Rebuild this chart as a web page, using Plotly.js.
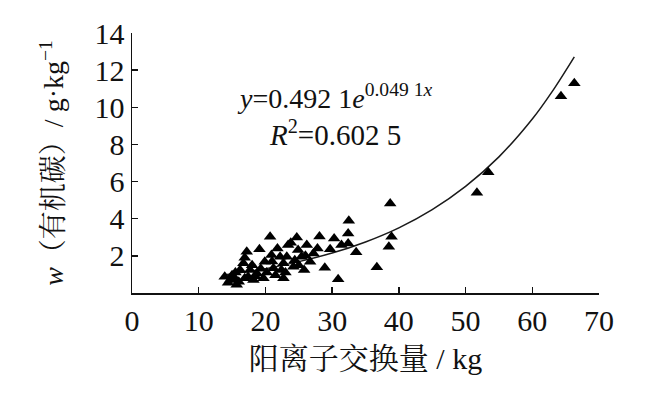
<!DOCTYPE html>
<html>
<head>
<meta charset="utf-8">
<script src="https://cdn.plot.ly/plotly-3.0.1.min.js"></script>
<style>
html,body{margin:0;padding:0;background:#fff;}
#chart{width:648px;height:395px;}
#chart text{font-family:'Liberation Serif','Noto Serif CJK SC',serif !important;}
</style>
</head>
<body>
<div id="chart"></div>
<script>
// Observed points: cation exchange capacity (x) vs organic carbon (y)
const cecValues = [13.9, 14.4, 14.7, 15.0, 15.4, 15.5, 15.7, 16.0, 16.2, 16.7, 16.9, 16.9, 17.2, 17.4, 17.7, 18.0, 18.2, 18.5, 18.7, 19.1, 19.3, 19.7, 19.9, 20.2, 20.7, 20.9, 21.0, 21.2, 21.5, 21.8, 22.2, 22.4, 22.7, 22.7, 23.0, 23.2, 23.4, 23.8, 24.2, 24.4, 24.7, 24.9, 25.0, 25.4, 25.8, 26.0, 26.2, 26.7, 27.2, 27.8, 28.1, 28.9, 29.7, 30.3, 30.9, 31.4, 32.4, 32.4, 32.5, 33.6, 36.7, 38.5, 38.9, 38.7, 51.7, 53.4, 64.3, 66.3];
const carbonValues = [0.88, 0.55, 0.70, 0.95, 0.79, 1.10, 0.45, 0.60, 1.24, 1.60, 0.79, 1.90, 2.22, 0.88, 1.24, 1.50, 0.70, 0.90, 1.06, 2.35, 1.30, 0.79, 1.68, 1.10, 3.03, 2.04, 1.70, 1.33, 0.95, 2.40, 1.95, 1.24, 0.79, 1.60, 1.10, 1.95, 2.58, 2.70, 1.41, 1.77, 2.99, 2.31, 1.50, 1.95, 1.24, 2.00, 2.58, 1.68, 2.13, 2.40, 3.04, 1.36, 2.35, 2.94, 0.74, 2.58, 2.67, 3.21, 3.89, 2.20, 1.38, 2.49, 3.03, 4.82, 5.40, 6.50, 10.60, 11.30];

// Trend curve
const curveX = [14, 20, 25, 30, 35, 40, 45, 50, 55, 60, 63, 66.3];
const curveY = [0.98, 1.31, 1.69, 2.15, 2.75, 3.51, 4.49, 5.74, 7.33, 9.37, 10.86, 12.72];

const xTicks = [0, 10, 20, 30, 40, 50, 60, 70];
const yTicks = [2, 4, 6, 8, 10, 12, 14];

const fontFam = 'Liberation Serif';

const traces = [
  {
    x: curveX, y: curveY, type: 'scatter', mode: 'lines',
    line: {color: '#1a1a1a', width: 1.5, shape: 'spline', smoothing: 1.0},
    hoverinfo: 'skip'
  },
  {
    x: cecValues, y: carbonValues, type: 'scatter', mode: 'markers',
    marker: {symbol: 'triangle-up', size: 11, color: '#000'}
  }
];

const layout = {
  width: 648, height: 395,
  margin: {l: 132, r: 49, t: 33, b: 102},
  paper_bgcolor: '#fff', plot_bgcolor: '#fff',
  showlegend: false,
  font: {family: fontFam, color: '#111', size: 28},
  xaxis: {
    range: [0, 70], tickvals: xTicks, ticktext: xTicks.map(String),
    showline: true, linecolor: '#111', linewidth: 1.5,
    ticks: 'inside', ticklen: 6, tickwidth: 1.5, tickcolor: '#111',
    showgrid: false, zeroline: false,
    tickfont: {family: fontFam, size: 30, color: '#111'},
    title: {text: '阳离子交换量 / kg', font: {family: fontFam, size: 30, color: '#111'}, standoff: 12}
  },
  yaxis: {
    range: [0, 14], tickvals: yTicks, ticktext: yTicks.map(String),
    showline: true, linecolor: '#111', linewidth: 1.5,
    ticks: 'inside', ticklen: 6, tickwidth: 1.5, tickcolor: '#111',
    showgrid: false, zeroline: false,
    tickfont: {family: fontFam, size: 30, color: '#111'},
    title: {text: '<i>w</i>（有机碳）/ g·kg<sup>−1</sup>', font: {family: fontFam, size: 28, color: '#111'}, standoff: 22}
  },
  annotations: [
    {x: 30.4, y: 10.6, xref: 'x', yref: 'y', showarrow: false,
     text: '<i>y</i>=0.492 1<i>e</i><sup>0.049 1<i>x</i></sup>',
     font: {family: fontFam, size: 28, color: '#111'}},
    {x: 30.4, y: 8.6, xref: 'x', yref: 'y', showarrow: false,
     text: '<i>R</i><sup>2</sup>=0.602 5',
     font: {family: fontFam, size: 29, color: '#111'}}
  ]
};

Plotly.newPlot('chart', traces, layout, {displayModeBar: false, staticPlot: true});
</script>
</body>
</html>
